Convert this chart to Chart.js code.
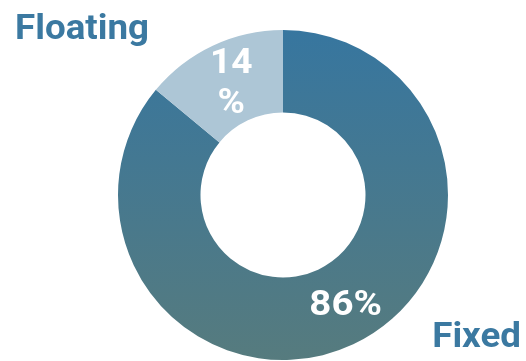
<!DOCTYPE html>
<html>
<head>
<meta charset="utf-8">
<script src="https://cdn.jsdelivr.net/npm/chart.js@4"></script>
<style>
  html, body { margin: 0; padding: 0; background: #fff; }
  #wrap { width: 526px; height: 361px; position: relative; }
</style>
</head>
<body>
<div id="wrap"><canvas id="rateChart"></canvas></div>
<script>
const categories = ["Fixed", "Floating"];
const shares = [86, 14];

const fixedTop = "#37769f";
const fixedBottom = "#567b7e";
const floatingColor = "#adc6d6";
const labelBlue = "#3b79a1";
const fontFamily = "Roboto, 'Noto Sans', sans-serif";

// text drawn slightly stretched sideways
function wideText(ctx, text, x, y, stretch) {
  ctx.save();
  ctx.translate(x, y);
  ctx.scale(stretch, 1);
  ctx.fillText(text, 0, 0);
  ctx.restore();
}

// white percentage text in the middle of each ring segment
const sliceLabels = {
  id: "sliceLabels",
  afterDatasetsDraw(chart) {
    const ctx = chart.ctx;
    const meta = chart.getDatasetMeta(0);
    ctx.save();
    ctx.fillStyle = "#fff";
    ctx.font = `bold 35px ${fontFamily}`;
    ctx.textAlign = "center";
    ctx.textBaseline = "middle";
    meta.data.forEach((arc, i) => {
      const value = chart.data.datasets[0].data[i];
      const pos = arc.tooltipPosition();
      if (value < 20) {
        // narrow slice: number and sign on separate lines
        wideText(ctx, String(value), pos.x + 1, pos.y - 19, 1.06);
        wideText(ctx, "%", pos.x + 1, pos.y + 21, 1.06);
      } else {
        wideText(ctx, value + "%", pos.x + 10, pos.y - 1, 1.1);
      }
    });
    ctx.restore();
  },
};

// category names in the corners
const cornerLabels = {
  id: "cornerLabels",
  afterDraw(chart) {
    const ctx = chart.ctx;
    ctx.save();
    ctx.fillStyle = labelBlue;
    ctx.font = `bold 35px ${fontFamily}`;
    ctx.textBaseline = "alphabetic";
    ctx.textAlign = "left";
    wideText(ctx, categories[1], 15, 39, 1.05);
    ctx.textAlign = "right";
    wideText(ctx, categories[0], 521, 347, 1.05);
    ctx.restore();
  },
};

new Chart(document.getElementById("rateChart"), {
  type: "doughnut",
  data: {
    labels: categories,
    datasets: [
      {
        data: shares,
        borderWidth: 0,
        backgroundColor(context) {
          if (context.dataIndex === 1) return floatingColor;
          const area = context.chart.chartArea;
          if (!area) return fixedTop;
          const g = context.chart.ctx.createLinearGradient(0, area.top, 0, area.bottom);
          g.addColorStop(0, fixedTop);
          g.addColorStop(1, fixedBottom);
          return g;
        },
      },
    ],
  },
  options: {
    responsive: true,
    maintainAspectRatio: false,
    animation: false,
    cutout: "50%",
    layout: { padding: { top: 30, bottom: 1, left: 40, right: 0 } },
    plugins: {
      legend: { display: false },
      tooltip: { enabled: false },
    },
  },
  plugins: [sliceLabels, cornerLabels],
});
</script>
</body>
</html>
